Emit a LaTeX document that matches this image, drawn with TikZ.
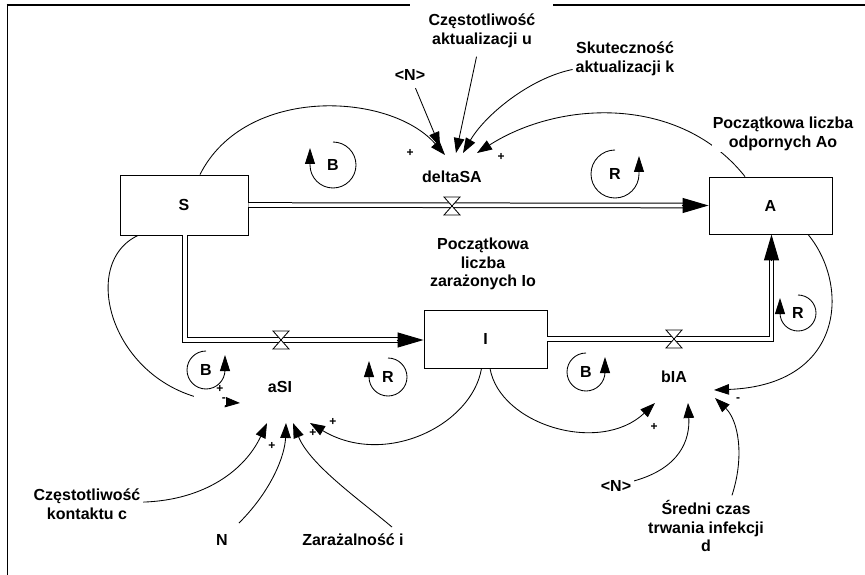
\documentclass[tikz,border=0pt]{standalone}
\usepackage{fontspec}
\setmainfont{Liberation Sans}
\usetikzlibrary{arrows.meta,calc}
\tikzset{valve/.pic={\draw[line width=0.8pt,fill=white] (-8,-9) -- (8,-9) -- (-8,9) -- (8,9) -- cycle;}}
\begin{document}
\begin{tikzpicture}[x=1pt,y=-1pt,
  font=\bfseries\fontsize{16}{18.5}\selectfont,
  stock/.style={draw,line width=0.9pt,inner sep=0pt},
  var/.style={align=center,inner sep=1pt,outer sep=2pt},
  pol/.style={font=\bfseries\fontsize{12}{12}\selectfont,inner sep=0pt},
  link/.style={line width=0.85pt,-{Triangle[length=15pt,width=10.5pt]}},
  pipe/.style={double,double distance=3.6pt,line width=1pt},
  pipetip/.style={line width=1pt,-{Triangle[length=26pt,width=15pt]}},
  looparr/.style={line width=0.85pt,-{Triangle[length=16pt,width=10pt]}},
]
\useasboundingbox (0,0) rectangle (865,575);
% frame
\draw[line width=2pt] (6.5,5) -- (410,5);
\draw[line width=2pt] (553,5) -- (865,5);
\draw[line width=1pt] (7,4) -- (7,575);

% stocks
\node[stock,minimum width=128pt,minimum height=60pt] (S) at (184,205) {S};
\node[stock,minimum width=123pt,minimum height=57pt] (A) at (770.5,205.5) {A};
\node[stock,minimum width=123pt,minimum height=58pt] (I) at (485.5,339) {I};

% flows
\draw[pipe] (S.east) -- ([xshift=-24pt]A.west);
\draw[pipetip] ([xshift=-27pt]A.west) -- (A.west);
\draw[pipe] ([xshift=1pt]S.south) |- ([xshift=-24pt,yshift=-1pt]I.west);
\draw[pipetip] ([xshift=-27pt,yshift=-1pt]I.west) -- ([yshift=-1pt]I.west);
\draw[pipe] (I.east) -| ([xshift=1pt,yshift=-24pt]A.south);
\draw[pipetip] ([xshift=1pt,yshift=-27pt]A.south) -- ([xshift=1pt]A.south);
\pic at (452,206) {valve};
\pic at (281,340) {valve};
\pic at (674,339) {valve};

% variables
\node[var] (dSA) at (452,177) {deltaSA};
\node[var] (aSI) at (280,387) {aSI};
\node[var] (bIA) at (674,377) {bIA};
\node[var] (cu) at (482,31) {Częstotliwość\\aktualizacji u};
\node[var] (sk) at (625,59) {Skuteczność\\aktualizacji k};
\node[var] (N1) at (410,75) {<N>};
\node[var] (pi) at (483,264) {Początkowa\\liczba\\zarażonych Io};
\node[var] (ck) at (87,504) {Częstotliwość\\kontaktu c};
\node[var] (N2) at (222,540) {N};
\node[var] (zi) at (353,540) {Zarażalność i};
\node[var] (N3) at (616,486) {<N>};
\node[var] (sd) at (706,526) {Średni czas\\trwania infekcji\\d};

% arrival points
\coordinate (dSA-s) at ($(dSA)+(-7,-22)$);
\coordinate (dSA-n) at ($(dSA)+(-12,-30)$);
\coordinate (dSA-u) at ($(dSA)+(4,-24)$);
\coordinate (dSA-k) at ($(dSA)+(11,-24)$);
\coordinate (dSA-a) at ($(dSA)+(25,-24)$);
\coordinate (aSI-s) at ($(aSI)+(-40,16)$);
\coordinate (aSI-c) at ($(aSI)+(-13,36)$);
\coordinate (aSI-n) at ($(aSI)+(6,36)$);
\coordinate (aSI-z) at ($(aSI)+(13,36)$);
\coordinate (aSI-i) at ($(aSI)+(30,36)$);
\coordinate (bIA-i) at ($(bIA)+(-19,26)$);
\coordinate (bIA-n) at ($(bIA)+(14,26)$);
\coordinate (bIA-d) at ($(bIA)+(41,21)$);
\coordinate (bIA-a) at ($(bIA)+(40,13)$);

% links
\draw[link] ([xshift=16pt]S.north) .. controls (245,85) and (390,92) .. (dSA-s);
\draw[link,shorten <=5pt] (N1) -- (dSA-n);
\draw[link,shorten <=6pt] (cu) -- (dSA-u);
\draw[link] (sk) .. controls (530,78) and (485,115) .. (dSA-k);
\draw[link] ([xshift=-25.5pt]A.north) .. controls (680,95) and (560,100) .. (dSA-a);
\draw[link] ([xshift=-46pt]S.south) .. controls (75,265) and (115,395) .. (aSI-s);
\draw[link] ([xshift=-4pt]I.south) .. controls (472,425) and (385,468) .. (aSI-i);
\draw[link] ([xshift=4.5pt]I.south) .. controls (500,425) and (600,455) .. (bIA-i);
\draw[link] ([xshift=37.5pt]A.south) .. controls (850,285) and (845,385) .. (bIA-a);
\draw[link] (N3) .. controls (680,468) and (690,440) .. (bIA-n);
\draw[link] ($(sd.north)+(26,-2)$) .. controls (745,455) and (738,420) .. (bIA-d);
\draw[link] (ck) .. controls (205,500) and (245,470) .. (aSI-c);
\draw[link,shorten <=12pt] (N2) .. controls (272,490) and (285,455) .. (aSI-n);
\draw[link] ($(zi.north)+(39,-4)$) .. controls (360,500) and (310,465) .. (aSI-z);

\node[var,fill=white] (pa) at (783,134) {Początkowa liczba\\odpornych Ao};

% polarities
\node[pol] (p1) at (410,153) {+};
\node[pol] (p2) at (501,157) {+};
\node[pol] (p3) at (220,389) {+};
\node[pol,fill=white,inner ysep=3pt,text width=32pt,align=right,anchor=east] (p4) at (226,400) {-};
\node[pol] (p5) at (272,446) {+};
\node[pol] (p6) at (313,433) {+};
\node[pol] (p7) at (333,422) {+};
\node[pol] (p8) at (654,427) {+};
\node[pol] (p9) at (738,400) {-};

% loops
\node (B1) at (333,165) {B};
\draw[looparr] ($(B1)+(0,-23)$) arc[start angle=90,end angle=-180,radius=23pt] -- ++(0,-17);
\node (R1) at (615,174) {R};
\draw[looparr] ($(R1)+(0,-24)$) arc[start angle=90,end angle=360,radius=24pt] -- ++(0,-18);
\node (B2) at (206,370) {B};
\draw[looparr] ($(B2)+(0,-19)$) arc[start angle=90,end angle=360,radius=19pt] -- ++(0,-15);
\node (R2) at (388,377) {R};
\draw[looparr] ($(R2)+(0,-19)$) arc[start angle=90,end angle=-180,radius=19pt] -- ++(0,-16);
\node (B3) at (586,372) {B};
\draw[looparr] ($(B3)+(0,-19)$) arc[start angle=90,end angle=360,radius=19pt] -- ++(0,-15);
\node (R3) at (798,313) {R};
\draw[looparr] ($(R3)+(0,-18)$) arc[start angle=90,end angle=-180,radius=18pt] -- ++(0,-15);
\end{tikzpicture}
\end{document}
